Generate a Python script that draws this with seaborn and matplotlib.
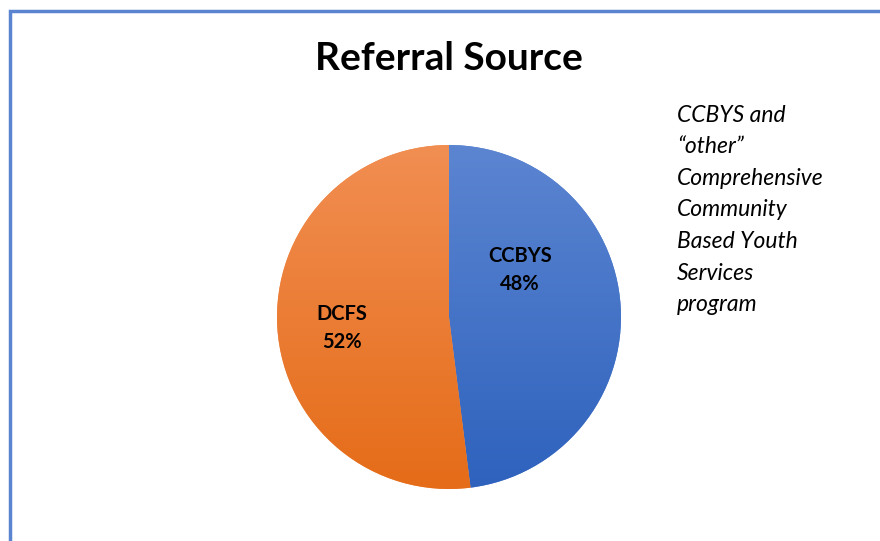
import matplotlib
matplotlib.use("Agg")
import matplotlib.pyplot as plt
import numpy as np
import seaborn as sns
from matplotlib.colors import LinearSegmentedColormap
from matplotlib.patches import Rectangle

sns.set_theme(style="white")
plt.rcParams["font.family"] = ["Lato", "DejaVu Sans"]

# data
labels = ["CCBYS", "DCFS"]
shares = [48, 52]
note_lines = ["CCBYS and", "\u201cother\u201d", "Comprehensive", "Community",
              "Based Youth", "Services", "program"]

# top / bottom shades of each slice (light to dark)
top_colors = sns.color_palette(["#5C85D1", "#F18E52"])
bottom_colors = sns.color_palette(["#2E62BD", "#E56C18"])

W, H = 880, 541
fig = plt.figure(figsize=(W / 100, H / 100), dpi=100)

# outer border (clipped by the picture edge on right and bottom)
fig.patches.append(Rectangle((9.5 / W, -0.1), 1.2, (H - 10.5) / H + 0.1,
                             transform=fig.transFigure, fill=False,
                             edgecolor="#5B84D0", linewidth=2.5))

fig.text(449 / W, 1 - 58 / H, "Referral Source", ha="center", va="center",
         fontsize=28, fontweight="bold", color="black")

cx, cy, r = 449, 317, 172
ax = fig.add_axes([(cx - r) / W, (H - cy - r) / H, 2 * r / W, 2 * r / H])
ax.axis("off")

wedges, _ = ax.pie(shares, startangle=90, counterclock=False, radius=1,
                   colors=top_colors, wedgeprops=dict(linewidth=0))

# vertical shading inside each slice
grad = np.linspace(0, 1, 256).reshape(-1, 1)
for w, c0, c1 in zip(wedges, top_colors, bottom_colors):
    cmap = LinearSegmentedColormap.from_list("g", [c0, c1])
    im = ax.imshow(grad, extent=[-1, 1, -1, 1], origin="upper", cmap=cmap,
                   aspect="auto", zorder=w.get_zorder() + 0.1)
    im.set_clip_path(w)

ax.set_aspect("auto")
ax.set_xlim(-1, 1)
ax.set_ylim(-1, 1)

label_pos = [(520, 270), (342, 328)]
for lab, val, (px, py) in zip(labels, shares, label_pos):
    fig.text(px / W, 1 - py / H, f"{lab}\n{val}%", ha="center", va="center",
             fontsize=14.5, fontweight="bold", color="black", linespacing=1.45)

for i, line in enumerate(note_lines):
    fig.text(677 / W, 1 - (115 + i * 31.6) / H, line, ha="left", va="center",
             fontsize=16.5, fontstyle="italic", color="black")

fig.savefig("out.png", dpi=100)
